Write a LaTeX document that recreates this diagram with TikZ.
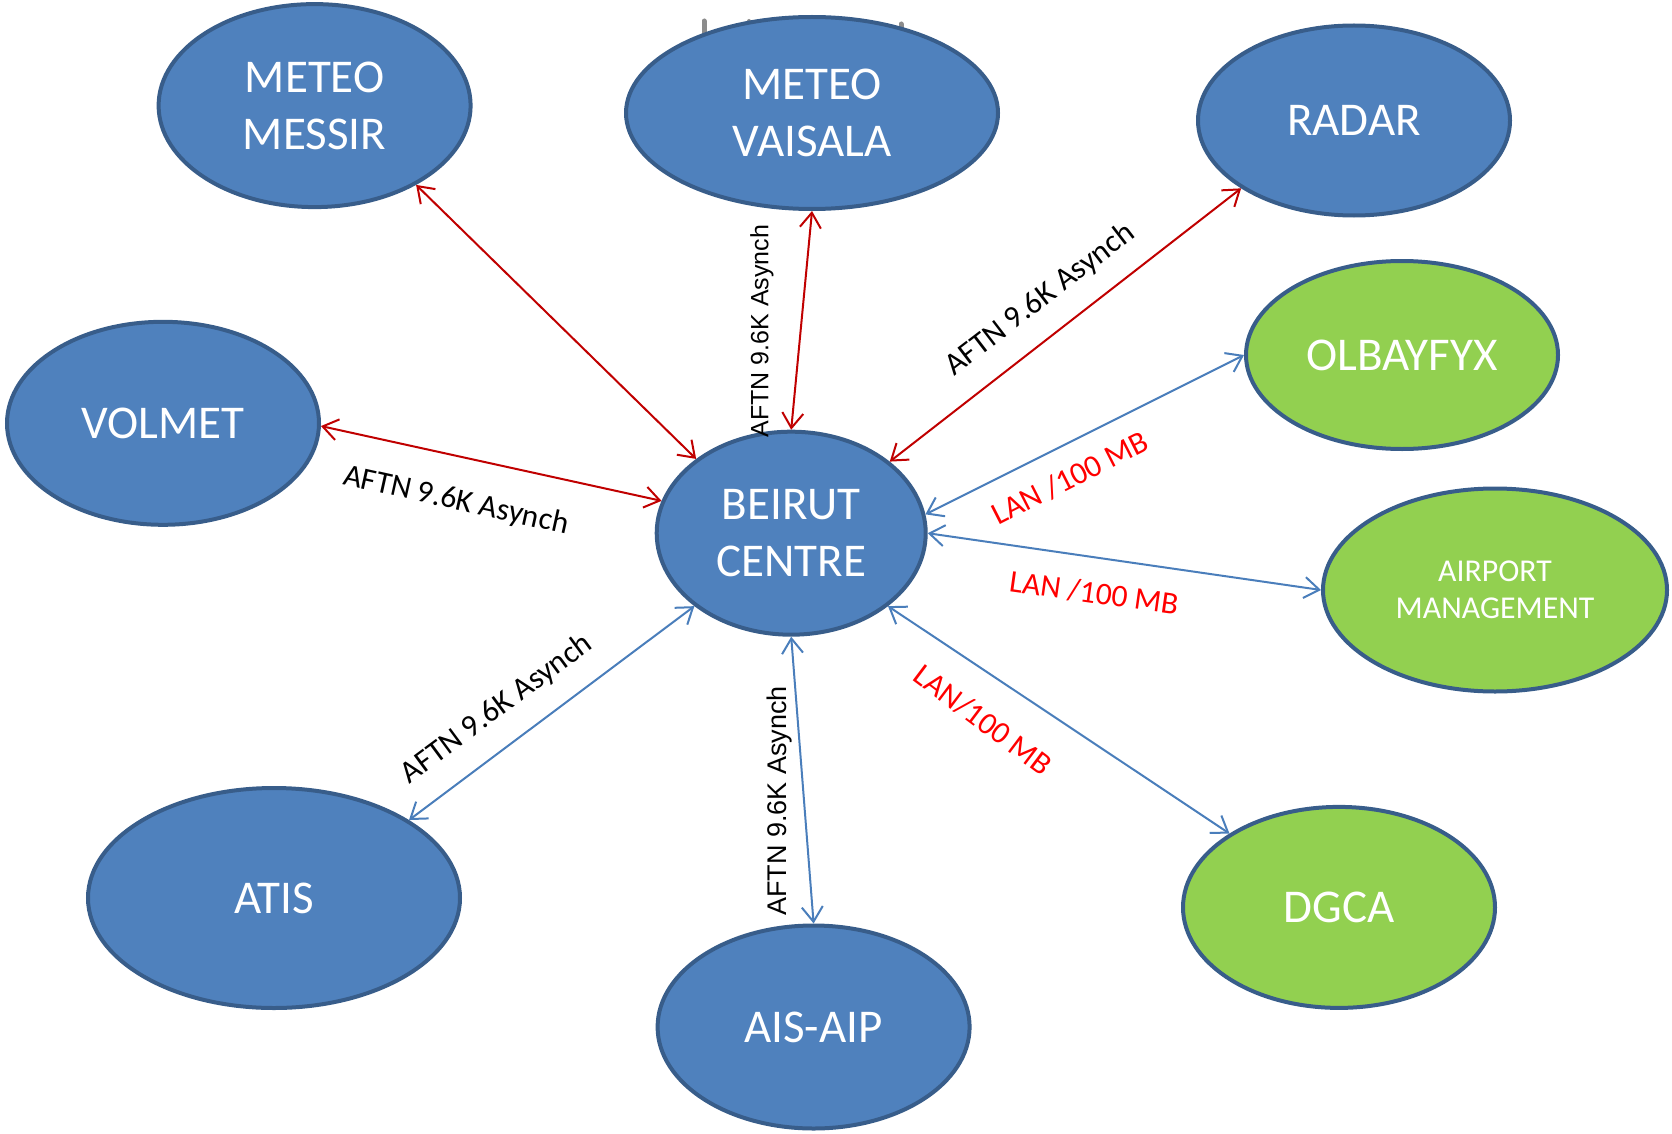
\documentclass[tikz,border=0pt]{standalone}
\usepackage{fontspec}
\setmainfont{Carlito}
\newfontfamily\arialf{Liberation Sans}
\usetikzlibrary{shapes.geometric,arrows.meta}
\definecolor{nodeblue}{HTML}{4F81BD}
\definecolor{nodeborder}{HTML}{385D8A}
\definecolor{nodegreen}{HTML}{92D050}
\definecolor{linkred}{HTML}{C00000}
\definecolor{linkblue}{HTML}{4A7EBB}
\definecolor{labelred}{HTML}{FF0000}
\definecolor{ghost}{HTML}{8C8C8C}
\tikzset{
  station/.style={ellipse, draw=nodeborder, line width=4pt, inner sep=0pt,
    text=white, align=center, font=\fontsize{47}{57}\selectfont},
  bluest/.style={station, fill=nodeblue},
  greenst/.style={station, fill=nodegreen},
  tipbarb/.style={{Straight Barb[length=15pt,width=21pt]}-{Straight Barb[length=15pt,width=21pt]}},
  redlink/.style={draw=linkred, line width=2pt, tipbarb},
  bluelink/.style={draw=linkblue, line width=2pt, tipbarb},
  aftnlab/.style={inner sep=0pt, text=black, font=\fontsize{31.5}{37}\selectfont},
  aftnvert/.style={inner sep=0pt, text=black, rotate=90},
  lanlab/.style={inner sep=0pt, text=labelred, font=\fontsize{31.5}{37}\selectfont},
}
\begin{document}
\begin{tikzpicture}[x=1pt,y=-1pt]
\useasboundingbox (0,0) rectangle (1672,1134);
% faint grey marks behind METEO VAISALA
\draw[ghost, line width=5pt, line cap=round] (704,21) -- (704,45);
\draw[ghost, line width=4pt, line cap=round] (749,21) -- (749,30);
\draw[ghost, line width=5pt, line cap=round] (901,24) -- (901,34);

\node[bluest, minimum width=312pt, minimum height=203pt] (messir) at (314.6,105.6) {METEO\\MESSIR};
\node[bluest, minimum width=372pt, minimum height=192pt] (vaisala) at (812,113) {METEO\\VAISALA};
\node[bluest, minimum width=312pt, minimum height=190pt] (radar) at (1354,120.5) {RADAR};
\node[bluest, minimum width=312pt, minimum height=203pt] (volmet) at (163,423.3) {VOLMET};
\node[bluest, minimum width=269pt, minimum height=203pt] (beirut) at (791.2,533.2) {BEIRUT\\CENTRE};
\node[greenst, minimum width=312pt, minimum height=188pt] (olbay) at (1402,355) {OLBAYFYX};
\node[greenst, minimum width=344pt, minimum height=203pt, font=\fontsize{31.8}{37.5}\selectfont] (airport) at (1495,590) {AIRPORT\\MANAGEMENT};
\node[bluest, minimum width=372pt, minimum height=220pt] (atis) at (274,898) {ATIS};
\node[bluest, minimum width=312pt, minimum height=203pt] (aisaip) at (813.6,1027) {AIS-AIP};
\node[greenst, minimum width=312pt, minimum height=201pt] (dgca) at (1339,907.4) {DGCA};

% connectors
\draw[redlink] (messir.-38.5) -- (beirut.142);
\draw[redlink] (vaisala.-90) -- (beirut.90);
\draw[redlink] (radar.211.4) -- (beirut.36.8);
\draw[redlink] (volmet.-1.3) -- (beirut.166.6);
\draw[bluelink] (olbay.180) -- (beirut.8.3);
\draw[bluelink] (airport.180) -- (beirut.0);
\draw[bluelink] (dgca.146.8) -- (beirut.-37.8);
\draw[bluelink] (aisaip.90) -- (beirut.-90);
\draw[bluelink] (atis.30) -- (beirut.217.9);

% labels
\node[aftnlab, rotate=-12.5] (lvolmet) at (456,501) {AFTN 9.6K Asynch};
\node[aftnlab, rotate=37.5] (lradar) at (1040,300) {AFTN 9.6K Asynch};
\node[aftnlab, rotate=36.5] (latis) at (497,709) {AFTN 9.6K Asynch};
\node[aftnvert, font=\arialf\fontsize{25}{30}\selectfont] (lvaisala) at (762,331) {AFTN 9.6K Asynch};
\node[aftnvert, font=\arialf\fontsize{27}{32}\selectfont] (laisaip) at (780,801) {AFTN 9.6K Asynch};
\node[lanlab, rotate=27] (lolbay) at (1070,478) {LAN /100 MB};
\node[lanlab, rotate=-8] (lairport) at (1094,593) {LAN /100 MB};
\node[lanlab, rotate=-37] (ldgca) at (983,720) {LAN/100 MB};
\end{tikzpicture}
\end{document}
